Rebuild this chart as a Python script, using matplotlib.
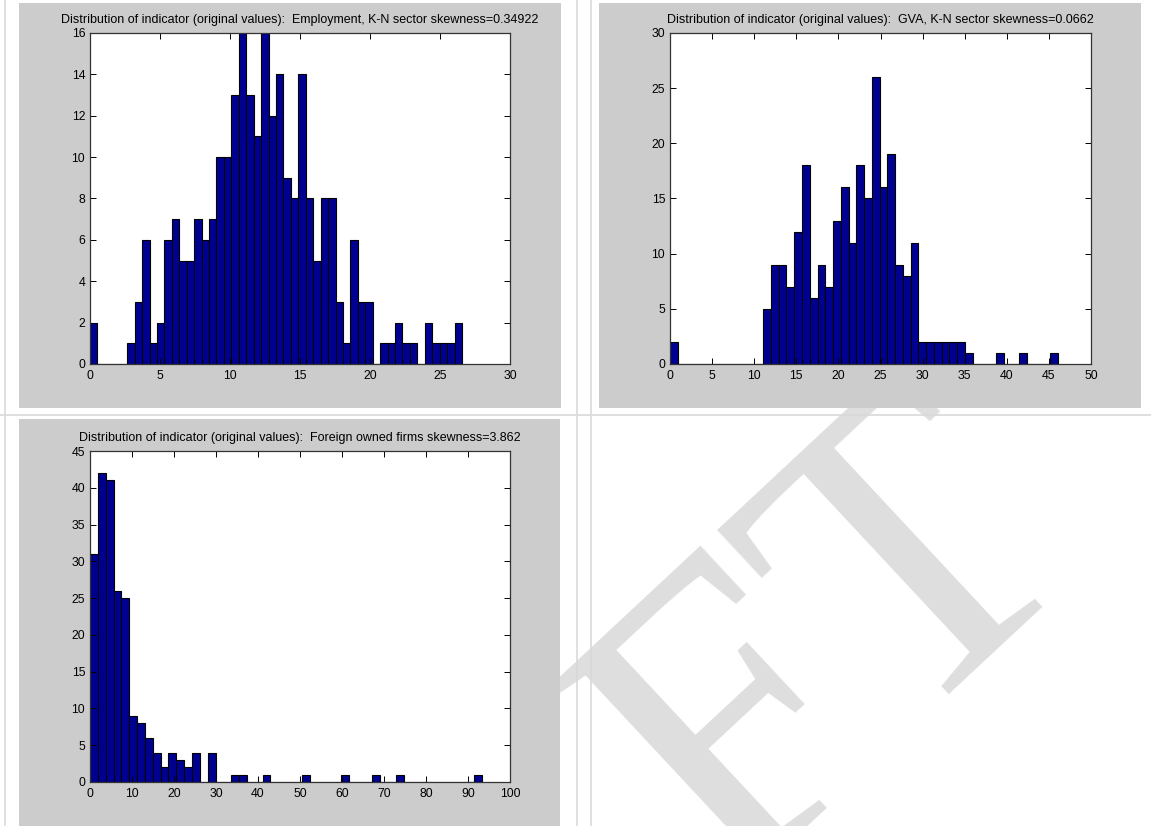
import numpy as np
import matplotlib
matplotlib.use("Agg")
import matplotlib.pyplot as plt
from matplotlib.patches import Rectangle
from matplotlib.lines import Line2D

# ---------------- data (bin counts) ----------------
emp_title = "Distribution of indicator (original values):  Employment, K-N sector skewness=0.34922"
emp_counts = [2, 0, 0, 0, 0, 1, 3, 6, 1, 2,
              6, 7, 5, 5, 7, 6, 7, 10, 10, 13,
              16, 13, 11, 16, 12, 14, 9, 8, 14, 8,
              5, 8, 8, 3, 1, 6, 3, 3, 0, 1,
              1, 2, 1, 1, 0, 2, 1, 1, 1, 2]
emp_range = (0.0, 26.57)
emp_xticks = [0, 5, 10, 15, 20, 25, 30]
emp_yticks = [0, 2, 4, 6, 8, 10, 12, 14, 16]

gva_title = "Distribution of indicator (original values):  GVA, K-N sector skewness=0.0662"
gva_counts = [2, 0, 0, 0, 0, 0, 0, 0, 0, 0,
              0, 0, 5, 9, 9, 7, 12, 18, 6, 9,
              7, 13, 16, 11, 18, 15, 26, 16, 19, 9,
              8, 11, 2, 2, 2, 2, 2, 2, 1, 0,
              0, 0, 1, 0, 0, 1, 0, 0, 0, 1]
gva_range = (0.0, 46.1)
gva_xticks = [0, 5, 10, 15, 20, 25, 30, 35, 40, 45, 50]
gva_yticks = [0, 5, 10, 15, 20, 25, 30]

fdi_title = "Distribution of indicator (original values):  Foreign owned firms skewness=3.862"
fdi_counts = [31, 42, 41, 26, 25, 9, 8, 6, 4, 2,
              4, 3, 2, 4, 0, 4, 0, 0, 1, 1,
              0, 0, 1, 0, 0, 0, 0, 1, 0, 0,
              0, 0, 1, 0, 0, 0, 1, 0, 0, 1,
              0, 0, 0, 0, 0, 0, 0, 0, 0, 1]
fdi_range = (0.0, 93.4)
fdi_xticks = [0, 10, 20, 30, 40, 50, 60, 70, 80, 90, 100]
fdi_yticks = [0, 5, 10, 15, 20, 25, 30, 35, 40, 45]

watermark = "DRAFT"

# ---------------- layout helpers ----------------
W, H = 1151, 826
fig = plt.figure(figsize=(W / 100, H / 100), dpi=100)
fig.patch.set_facecolor("white")
plt.rcParams["font.family"] = ["Liberation Sans", "DejaVu Sans"]


def rect(x0, y0, x1, y1):
    return [x0 / W, 1 - y1 / H, (x1 - x0) / W, (y1 - y0) / H]


# watermark (behind everything)
fig.text(1088 / W, 1 - 553 / H, watermark, family="Liberation Serif",
         fontsize=305, color="#dedede", rotation=43, rotation_mode="anchor",
         ha="right", va="baseline", zorder=-5)

# table lines
line_c = "#d9d9d9"
for xv in (5, 577, 591):
    fig.add_artist(Line2D([xv / W, xv / W], [0, 1], color=line_c, lw=1.2, zorder=-3))
fig.add_artist(Line2D([0, 1], [1 - 415 / H, 1 - 415 / H], color=line_c, lw=1.2, zorder=-3))

# gray figure panels
for (x0, y0, x1, y1) in [(19, 3, 561, 408), (599, 3, 1141, 408), (19, 419, 560, 826)]:
    fig.add_artist(Rectangle((x0 / W, 1 - y1 / H), (x1 - x0) / W, (y1 - y0) / H,
                             transform=fig.transFigure, facecolor="#cccccc",
                             edgecolor="none", zorder=-2))

bar_color = "#000090"


def draw(ax_rect, counts, rng, xticks, yticks, title):
    ax = fig.add_axes(rect(*ax_rect))
    counts = np.asarray(counts, dtype=float)
    edges = np.linspace(rng[0], rng[1], len(counts) + 1)
    ax.bar(edges[:-1], counts, width=np.diff(edges), align="edge",
           color=bar_color, edgecolor="black", linewidth=0.8)
    ax.set_xlim(xticks[0], xticks[-1])
    ax.set_ylim(yticks[0], yticks[-1])
    ax.set_xticks(xticks)
    ax.set_yticks(yticks)
    ax.tick_params(direction="in", top=True, right=True, length=4, width=0.7,
                   labelsize=8.8, colors="black")
    ax.tick_params(axis="x", pad=4)
    ax.tick_params(axis="y", pad=3.5)
    for s in ax.spines.values():
        s.set_linewidth(0.9)
        s.set_color("#333333")
    ax.set_title(title, fontsize=9, pad=7)
    return ax


draw((90, 33, 510, 364), emp_counts, emp_range, emp_xticks, emp_yticks, emp_title)
draw((670, 33, 1091, 364), gva_counts, gva_range, gva_xticks, gva_yticks, gva_title)
draw((90, 451, 510, 782), fdi_counts, fdi_range, fdi_xticks, fdi_yticks, fdi_title)

fig.savefig("out.png", dpi=100, facecolor="white")
